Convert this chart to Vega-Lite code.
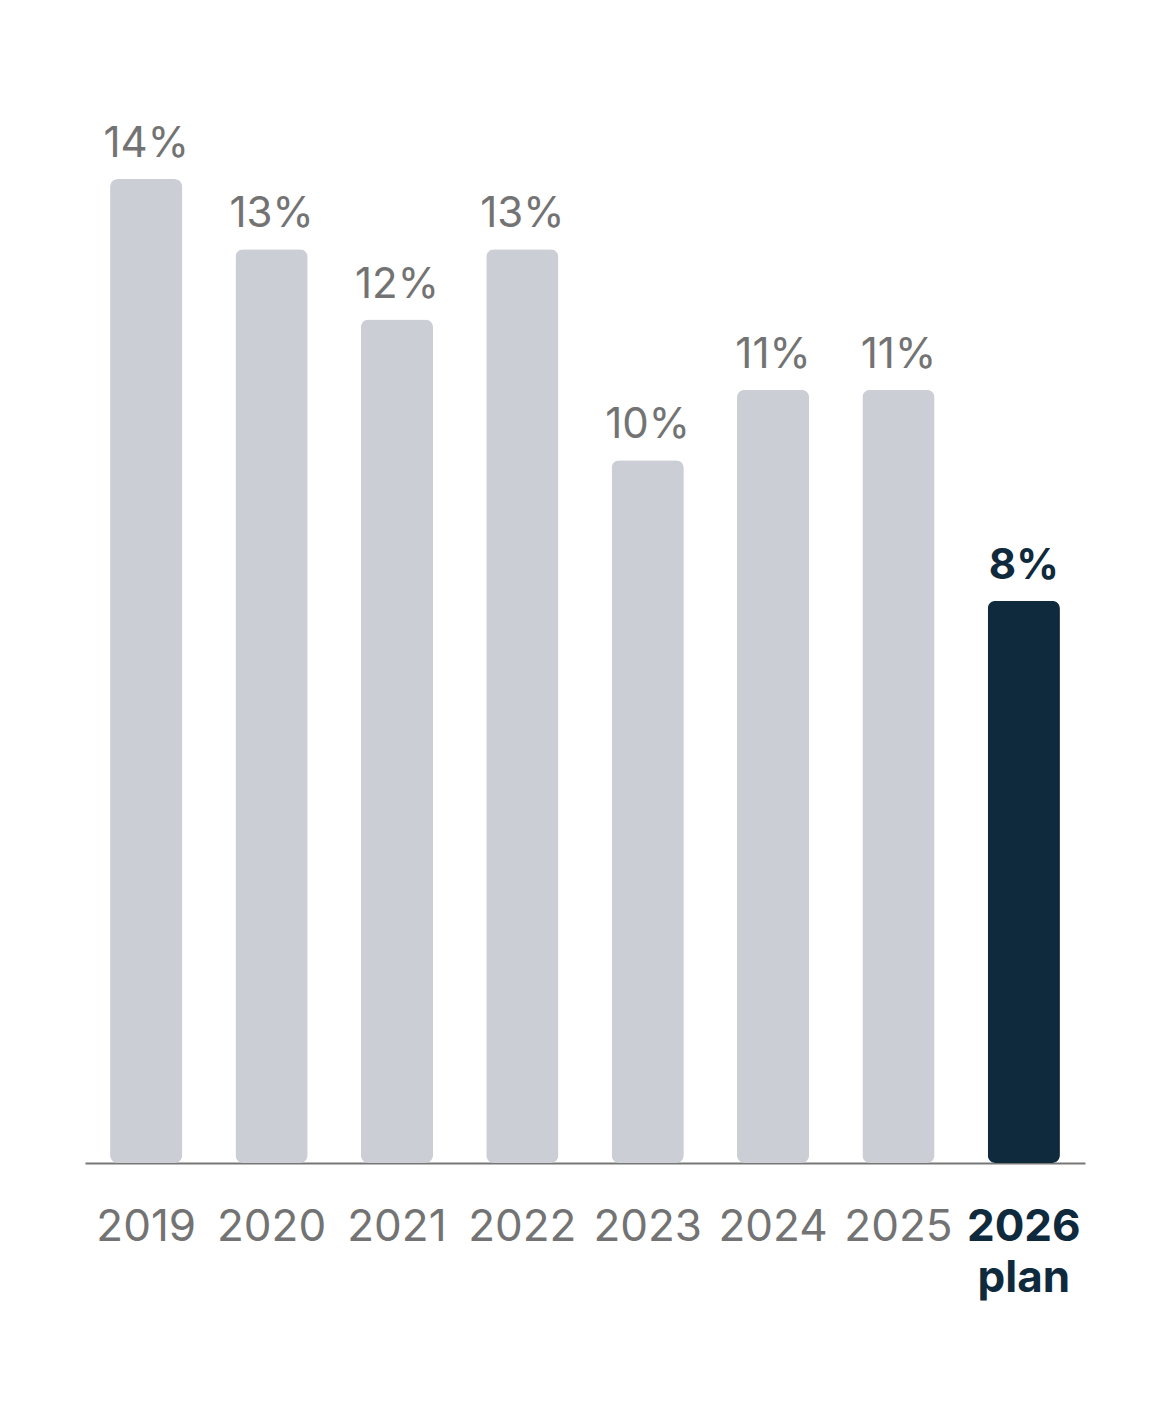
{
  "$schema": "https://vega.github.io/schema/vega-lite/v6.json",
  "width": 1000,
  "height": 984,
  "autosize": {"type": "none"},
  "padding": {"left": 85, "top": 179, "right": 85, "bottom": 247},
  "background": "white",
  "config": {
    "view": {"stroke": null},
    "font": "Inter"
  },
  "data": {
    "values": [
      {"year": "2019", "share": 14, "kind": "actual"},
      {"year": "2020", "share": 13, "kind": "actual"},
      {"year": "2021", "share": 12, "kind": "actual"},
      {"year": "2022", "share": 13, "kind": "actual"},
      {"year": "2023", "share": 10, "kind": "actual"},
      {"year": "2024", "share": 11, "kind": "actual"},
      {"year": "2025", "share": 11, "kind": "actual"},
      {"year": "2026", "share": 8, "kind": "plan"}
    ]
  },
  "encoding": {
    "x": {
      "field": "year",
      "type": "nominal",
      "sort": null,
      "title": null,
      "scale": {"paddingInner": 0.424, "paddingOuter": 0.2},
      "axis": {
        "labelAngle": 0,
        "labelFontSize": 44,
        "labelPadding": 42,
        "labelBaseline": "top",
        "labelLineHeight": 51,
        "labelExpr": "datum.value == '2026' ? ['2026', 'plan'] : datum.value",
        "labelColor": {"condition": {"test": "datum.value == '2026'", "value": "#0f2a3d"}, "value": "#737373"},
        "labelFontWeight": {"condition": {"test": "datum.value == '2026'", "value": "bold"}, "value": "normal"},
        "ticks": false,
        "domainColor": "#777777",
        "domainWidth": 2
      }
    },
    "y": {
      "field": "share",
      "type": "quantitative",
      "scale": {"domain": [0, 14], "nice": false},
      "axis": null
    }
  },
  "layer": [
    {
      "mark": {"type": "bar", "cornerRadius": 8},
      "encoding": {
        "color": {
          "field": "kind",
          "type": "nominal",
          "scale": {"domain": ["actual", "plan"], "range": ["#cbcfd5", "#0f2a3d"]},
          "legend": null
        }
      }
    },
    {
      "transform": [{"filter": "datum.kind == 'actual'"}],
      "mark": {"type": "text", "baseline": "alphabetic", "dy": -22, "fontSize": 42, "letterSpacing": -1, "color": "#737373", "text": {"expr": "datum.share + '%'"}}
    },
    {
      "transform": [{"filter": "datum.kind == 'plan'"}],
      "mark": {"type": "text", "baseline": "alphabetic", "dy": -22, "fontSize": 42, "letterSpacing": -1, "fontWeight": "bold", "color": "#0f2a3d", "text": {"expr": "datum.share + '%'"}}
    }
  ]
}
